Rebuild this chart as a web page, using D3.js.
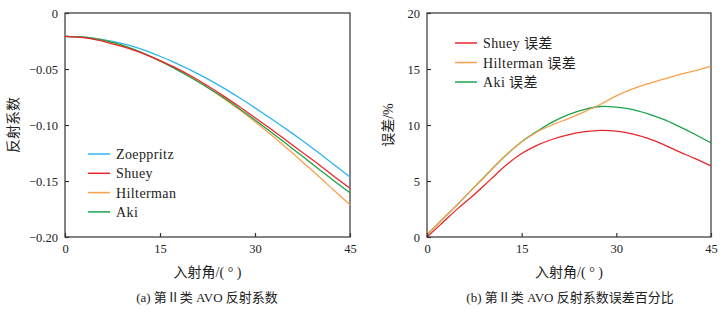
<!DOCTYPE html>
<html lang="zh">
<head>
<meta charset="utf-8">
<title>第Ⅱ类 AVO</title>
<script src="https://cdn.jsdelivr.net/npm/d3@7"></script>
<style>
  body { margin: 0; background: #fff; }
  svg text { font-family: "Liberation Serif", "Noto Sans CJK SC", serif; fill: #222; }
  .axis path, .axis line { stroke: #333; stroke-width: 1.2; }
  .axis text { font-size: 12.5px; }
  .leg text { font-size: 14px; letter-spacing: 0.4px; }
  .ttl { font-size: 14px; }
  .cap { font-size: 13px; }
</style>
</head>
<body>
<div id="chart"></div>
<script>
// incidence angles (degrees)
var angles = [0, 2.5, 5, 7.5, 10, 12.5, 15, 17.5, 20, 22.5, 25, 27.5, 30, 32.5, 35, 37.5, 40, 42.5, 45];

// (a) reflection coefficients
var zoeppritz = [-0.0208, -0.0213, -0.0228, -0.0253, -0.0287, -0.0331, -0.0386, -0.0447, -0.0514, -0.0588, -0.0668, -0.0755, -0.0847, -0.0942, -0.1039, -0.1140, -0.1245, -0.1355, -0.1465];
var shuey     = [-0.0208, -0.0218, -0.0240, -0.0275, -0.0315, -0.0365, -0.0425, -0.0490, -0.0565, -0.0650, -0.0740, -0.0835, -0.0935, -0.1035, -0.1140, -0.1245, -0.1350, -0.1460, -0.1565];
var hilterman = [-0.0208, -0.0214, -0.0232, -0.0263, -0.0306, -0.0362, -0.0428, -0.0500, -0.0578, -0.0665, -0.0760, -0.0862, -0.0970, -0.1085, -0.1205, -0.1330, -0.1455, -0.1585, -0.1712];
var aki       = [-0.0208, -0.0214, -0.0232, -0.0263, -0.0306, -0.0362, -0.0428, -0.0501, -0.0580, -0.0665, -0.0755, -0.0852, -0.0955, -0.1062, -0.1170, -0.1280, -0.1390, -0.1500, -0.1605];

// (b) error percentage
var shueyErr     = [0, 1.3, 2.6, 3.8, 5.1, 6.4, 7.45, 8.2, 8.75, 9.15, 9.4, 9.52, 9.45, 9.2, 8.8, 8.25, 7.6, 7.0, 6.35];
var hiltermanErr = [0.2, 1.6, 3.0, 4.45, 5.9, 7.3, 8.5, 9.4, 10.05, 10.6, 11.2, 11.85, 12.6, 13.2, 13.7, 14.1, 14.5, 14.85, 15.25];
var akiErr       = [0.2, 1.6, 3.0, 4.45, 5.9, 7.3, 8.5, 9.45, 10.3, 10.95, 11.4, 11.65, 11.6, 11.4, 11.0, 10.5, 9.85, 9.15, 8.4];

var xTicks = [0, 15, 30, 45];
var yTicksA = [0, -0.05, -0.10, -0.15, -0.20];
var yTicksB = [0, 5, 10, 15, 20];

var seriesA = [
  {name: "Zoeppritz", values: zoeppritz, color: "#2cb5ef", z: 0},
  {name: "Shuey", values: shuey, color: "#e8252b", z: 3},
  {name: "Hilterman", values: hilterman, color: "#f8a04c", z: 1},
  {name: "Aki", values: aki, color: "#1ba34a", z: 2}
];
var seriesB = [
  {name: "Shuey 误差", values: shueyErr, color: "#e8252b", z: 0},
  {name: "Hilterman 误差", values: hiltermanErr, color: "#f8a04c", z: 2},
  {name: "Aki 误差", values: akiErr, color: "#1ba34a", z: 1}
];

var svg = d3.select("#chart").append("svg").attr("width", 723).attr("height", 320);

function panel(opt) {
  var x = d3.scaleLinear().domain([0, 45]).range([opt.left, opt.right]);
  var y = d3.scaleLinear().domain(opt.domain).range([237, 13]);
  var g = svg.append("g");

  // frame
  g.append("rect").attr("x", opt.left).attr("y", 13)
    .attr("width", opt.right - opt.left).attr("height", 224)
    .attr("fill", "none").attr("stroke", "#333").attr("stroke-width", 1.2);

  var line = d3.line()
    .x(function(d, i) { return x(angles[i]); })
    .y(function(d) { return y(d); })
    .curve(d3.curveCatmullRom);

  opt.series.slice().sort(function(a, b) { return a.z - b.z; }).forEach(function(s) {
    g.append("path").attr("d", line(s.values))
      .attr("fill", "none").attr("stroke", s.color).attr("stroke-width", 1.3);
  });

  var xAxis = d3.axisBottom(x).tickValues(xTicks).tickSizeInner(-4).tickSizeOuter(0).tickPadding(7);
  g.append("g").attr("class", "axis").attr("transform", "translate(0,237)").call(xAxis)
    .call(function(a) { a.select(".domain").remove(); });
  var yAxis = d3.axisLeft(y).tickValues(opt.yTicks).tickSizeInner(-4).tickSizeOuter(0).tickPadding(7)
    .tickFormat(opt.fmt);
  g.append("g").attr("class", "axis").attr("transform", "translate(" + opt.left + ",0)").call(yAxis)
    .call(function(a) { a.select(".domain").remove(); });

  g.append("text").attr("class", "ttl").attr("x", (opt.left + opt.right) / 2).attr("y", 277)
    .attr("text-anchor", "middle").text("入射角/( ° )");
  g.append("text").attr("class", "ttl")
    .attr("transform", "translate(" + opt.yTitleX + ",125) rotate(-90)")
    .attr("text-anchor", "middle").text(opt.yTitle);
  g.append("text").attr("class", "cap").attr("x", opt.capX).attr("y", 302)
    .attr("text-anchor", "middle").text(opt.caption);

  var leg = g.append("g").attr("class", "leg");
  opt.series.forEach(function(s, i) {
    var ly = opt.legY + i * opt.legStep;
    leg.append("line").attr("x1", opt.legX).attr("x2", opt.legX + 22)
      .attr("y1", ly).attr("y2", ly).attr("stroke", s.color).attr("stroke-width", 1.5);
    leg.append("text").attr("x", opt.legX + 28).attr("y", ly + 5).text(s.name);
  });
}

panel({
  left: 65, right: 350, domain: [-0.20, 0], yTicks: yTicksA,
  fmt: function(d) { return d === 0 ? "0" : d3.format(".2f")(d).replace("-", "\u2212"); },
  series: seriesA, yTitle: "反射系数", yTitleX: 18,
  caption: "(a) 第Ⅱ类 AVO 反射系数", capX: 207,
  legX: 88, legY: 154, legStep: 19.3
});

panel({
  left: 427, right: 711, domain: [0, 20], yTicks: yTicksB,
  fmt: d3.format("d"),
  series: seriesB, yTitle: "误差/%", yTitleX: 393,
  caption: "(b) 第Ⅱ类 AVO 反射系数误差百分比", capX: 570,
  legX: 455, legY: 43, legStep: 19.5
});
</script>
</body>
</html>
